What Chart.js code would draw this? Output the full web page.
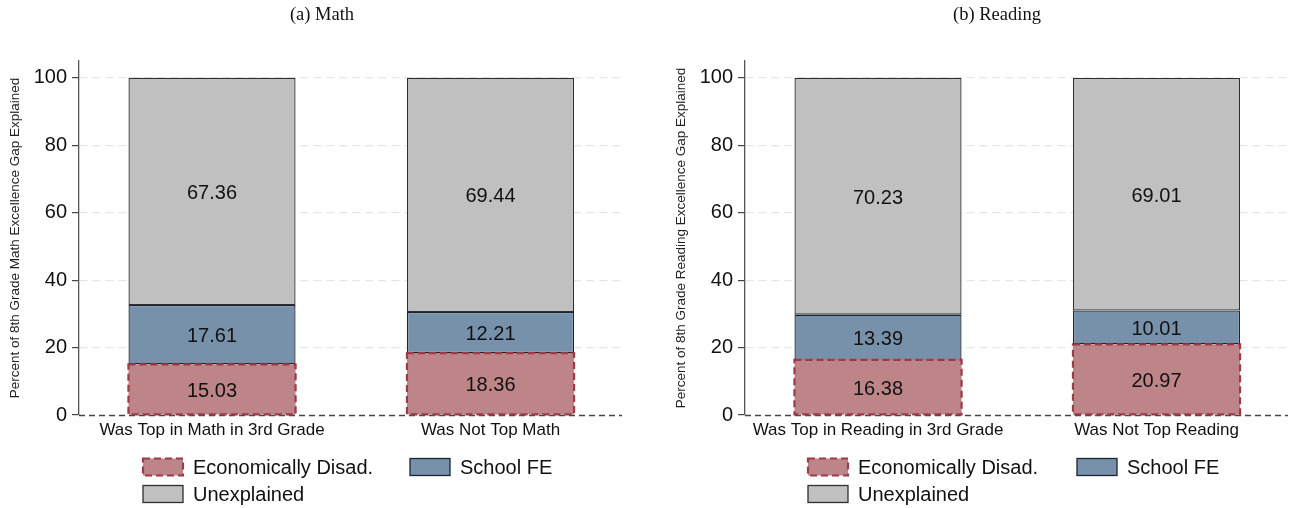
<!DOCTYPE html>
<html>
<head>
<meta charset="utf-8">
<script src="https://cdn.jsdelivr.net/npm/chart.js@4.4.1/dist/chart.umd.min.js"></script>
<style>
  html, body { margin: 0; padding: 0; background: #ffffff; }
  #wrap { position: relative; width: 1290px; height: 508px; overflow: hidden; }
  canvas { position: absolute; top: 0; }
  #chartMath { left: 0; }
  #chartReading { left: 645px; }
</style>
</head>
<body>
<div id="wrap">
  <canvas id="chartMath" width="645" height="508"></canvas>
  <canvas id="chartReading" width="645" height="508"></canvas>
</div>
<script>
// ---- data ----
const seriesNames = ['Economically Disad.', 'School FE', 'Unexplained'];

const groupsMath = ['Was Top in Math in 3rd Grade', 'Was Not Top Math'];
const econMath = [15.03, 18.36];
const schoolMath = [17.61, 12.21];
const unexplMath = [67.36, 69.44];

const groupsReading = ['Was Top in Reading in 3rd Grade', 'Was Not Top Reading'];
const econReading = [16.38, 20.97];
const schoolReading = [13.39, 10.01];
const unexplReading = [70.23, 69.01];

const groupPos = [1, 2];
const yTicks = [0, 20, 40, 60, 80, 100];

// ---- styling ----
const SANS = '"Liberation Sans", Arial, Helvetica, sans-serif';
const SERIF = '"Liberation Serif", "Times New Roman", serif';
const seriesStyle = [
  { fill: '#bd8588', line: '#9c3b45', width: 2.2, dash: [7, 4] },
  { fill: '#7891aa', line: '#1b2530', width: 1.3, dash: [] },
  { fill: '#c0c0c0', line: '#2e2e2e', width: 1.3, dash: [] }
];

// panel title drawn at a fixed horizontal position
const panelTitle = {
  id: 'panelTitle',
  afterDraw(chart, args, opts) {
    const ctx = chart.ctx;
    ctx.save();
    ctx.font = '18.5px ' + SERIF;
    ctx.fillStyle = '#111';
    ctx.textAlign = 'center';
    ctx.textBaseline = 'middle';
    ctx.fillText(opts.text, opts.x, opts.y);
    ctx.restore();
  }
};

// dashed zero line across the plot
const zeroLine = {
  id: 'zeroLine',
  afterDatasetsDraw(chart) {
    const { ctx, chartArea } = chart;
    const y0 = Math.round(chart.scales.y.getPixelForValue(0)) + 0.5;
    ctx.save();
    ctx.strokeStyle = '#444';
    ctx.lineWidth = 1.3;
    ctx.setLineDash([6, 4]);
    ctx.beginPath();
    ctx.moveTo(chartArea.left, y0);
    ctx.lineTo(chartArea.right, y0);
    ctx.stroke();
    ctx.restore();
  }
};

// dashed outline for the first series, values in every segment
const segmentDecor = {
  id: 'segmentDecor',
  afterDatasetsDraw(chart) {
    const ctx = chart.ctx;
    ctx.save();
    const st = seriesStyle[0];
    chart.getDatasetMeta(0).data.forEach(bar => {
      const left = bar.x - bar.width / 2;
      ctx.strokeStyle = st.line;
      ctx.lineWidth = st.width;
      ctx.setLineDash(st.dash);
      ctx.strokeRect(left, bar.y, bar.width, bar.base - bar.y);
    });
    ctx.setLineDash([]);
    ctx.font = '20px ' + SANS;
    ctx.fillStyle = '#111';
    ctx.textAlign = 'center';
    ctx.textBaseline = 'middle';
    chart.data.datasets.forEach((ds, di) => {
      chart.getDatasetMeta(di).data.forEach((bar, i) => {
        const v = ds.data[i].y;
        ctx.fillText(v.toFixed(2), bar.x, (bar.y + bar.base) / 2 + 2);
      });
    });
    ctx.restore();
  }
};

// legend boxes at fixed slots below the plot
const panelLegend = {
  id: 'panelLegend',
  afterDraw(chart, args, opts) {
    const ctx = chart.ctx;
    const w = 40, h = 17;
    ctx.save();
    chart.data.datasets.forEach((ds, i) => {
      const [x, y] = opts.slots[i];
      const st = seriesStyle[i];
      ctx.fillStyle = st.fill;
      ctx.fillRect(x, y - h / 2, w, h);
      ctx.strokeStyle = st.line;
      ctx.lineWidth = st.width;
      ctx.setLineDash(st.dash);
      ctx.strokeRect(x, y - h / 2, w, h);
      ctx.setLineDash([]);
      ctx.font = '20px ' + SANS;
      ctx.fillStyle = '#111';
      ctx.textAlign = 'left';
      ctx.textBaseline = 'middle';
      ctx.fillText(ds.label, x + 50, y + 1);
    });
    ctx.restore();
  }
};

function makeDataset(idx, values) {
  const st = seriesStyle[idx];
  return {
    label: seriesNames[idx],
    data: groupPos.map((x, i) => ({ x: x, y: values[i] })),
    backgroundColor: st.fill,
    borderColor: st.line,
    borderWidth: idx === 0 ? 0 : st.width,
    borderSkipped: false,
    stack: 'gap'
  };
}

function buildPanel(canvasId, p) {
  return new Chart(document.getElementById(canvasId), {
    type: 'bar',
    data: {
      datasets: [
        makeDataset(0, p.econ),
        makeDataset(1, p.school),
        makeDataset(2, p.unexpl)
      ]
    },
    options: {
      responsive: false,
      animation: false,
      devicePixelRatio: 1,
      layout: { padding: { left: 0, right: p.rightPad, top: 61, bottom: 0 } },
      datasets: { bar: { categoryPercentage: 1, barPercentage: 0.6 } },
      plugins: {
        legend: { display: false },
        tooltip: { enabled: false },
        panelTitle: { text: p.title, x: p.titleX, y: 15 },
        panelLegend: { slots: p.legendSlots }
      },
      scales: {
        x: {
          type: 'linear',
          stacked: true,
          offset: false,
          min: 0.5224,
          max: 2.4721,
          grid: { display: false, drawTicks: false, offset: false },
          border: { display: false },
          afterBuildTicks: s => { s.ticks = groupPos.map(v => ({ value: v })); },
          afterFit: s => { s.height = 93; },
          ticks: {
            callback: (v, i) => p.groups[i],
            font: { family: SANS, size: 17 },
            color: '#111',
            padding: 5,
            maxRotation: 0,
            autoSkip: false
          }
        },
        y: {
          stacked: true,
          min: 0,
          max: 105,
          afterBuildTicks: s => { s.ticks = yTicks.map(v => ({ value: v })); },
          afterFit: s => { s.width = p.axisWidth; },
          grid: {
            color: c => (c.tick && c.tick.value === 0) ? 'rgba(0,0,0,0)' : '#e6e6e6',
            lineWidth: 1.2,
            tickColor: '#444',
            tickLength: 7,
            tickWidth: 1.2
          },
          border: { display: true, color: '#555', width: 1.3, dash: [8, 5] },
          ticks: { font: { family: SANS, size: 20 }, color: '#111', padding: 5 },
          title: {
            display: true,
            text: p.yTitle,
            font: { family: SANS, size: 13.5 },
            color: '#222',
            padding: { top: p.yTitlePad, bottom: 0 }
          }
        }
      }
    },
    plugins: [panelTitle, zeroLine, segmentDecor, panelLegend]
  });
}

buildPanel('chartMath', {
  title: '(a) Math',
  titleX: 322,
  groups: groupsMath,
  econ: econMath,
  school: schoolMath,
  unexpl: unexplMath,
  yTitle: 'Percent of 8th Grade Math Excellence Gap Explained',
  yTitlePad: 7,
  axisWidth: 79,
  rightPad: 23,
  legendSlots: [[143, 467], [410, 467], [143, 494]]
});

buildPanel('chartReading', {
  title: '(b) Reading',
  titleX: 352,
  groups: groupsReading,
  econ: econReading,
  school: schoolReading,
  unexpl: unexplReading,
  yTitle: 'Percent of 8th Grade Reading Excellence Gap Explained',
  yTitlePad: 28,
  axisWidth: 100,
  rightPad: 2,
  legendSlots: [[163, 467], [432, 467], [163, 494]]
});
</script>
</body>
</html>
